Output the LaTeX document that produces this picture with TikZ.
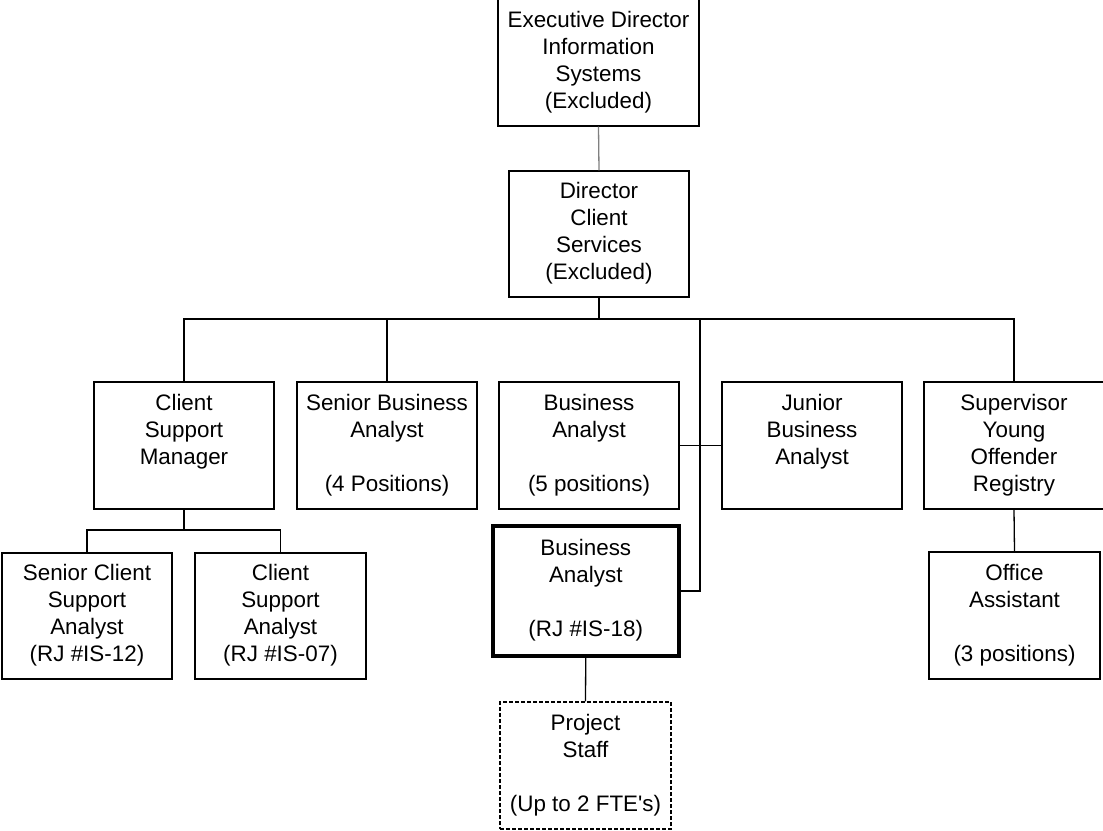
\documentclass[tikz,border=0pt]{standalone}
\usepackage{fontspec}
\setmainfont{Liberation Sans}
\newfontfamily\rawfont{Liberation Sans}[Ligatures=ResetAll]
\definecolor{lgray}{RGB}{128,128,128}
\begin{document}
\begin{tikzpicture}[x=1pt,y=-1pt,
  box/.style={draw, line width=1.3pt, minimum width=180pt, minimum height=127pt,
    inner sep=0pt, align=center, font=\fontsize{22.4}{27}\selectfont},
  link/.style={line width=1.3pt}]
\useasboundingbox (0,0) rectangle (1103,830);
% nodes
\node[box, minimum width=201pt] (exec) at (598.5,62.5)
  {\strut Executive Director\\\strut Information\\\strut Systems\\\strut (Excluded)};
\node[box, minimum height=126pt] (dir) at (599,234)
  {\strut Director\\\strut Client\\\strut Services\\\strut (Excluded)};
\node[box] (csm) at (184,445.5) {\strut Client\\\strut Support\\\strut Manager\\\strut};
\node[box] (sba) at (387,445.5) {\strut Senior Business\\\strut Analyst\\\strut\\\strut (4 Positions)};
\node[box] (ba) at (589,445.5) {\strut Business\\\strut Analyst\\\strut\\\strut (5 positions)};
\node[box] (jba) at (812,445.5) {\strut Junior\\\strut Business\\\strut Analyst\\\strut};
\node[box] (syor) at (1014,445.5) {\strut Supervisor\\\strut Young\\\strut Offender\\\strut Registry};
\node[box, minimum width=170pt, minimum height=126pt] (scsa) at (87,616)
  {\strut Senior Client\\\strut Support\\\strut Analyst\\\strut (RJ \#IS-12)};
\node[box, minimum width=171pt, minimum height=126pt] (csa) at (280.5,616)
  {\strut Client\\\strut Support\\\strut Analyst\\\strut (RJ \#IS-07)};
\node[box, line width=4pt, minimum width=185.5pt, minimum height=130pt] (barj) at (585.75,591)
  {\strut Business\\\strut Analyst\\\strut\\\strut (RJ \#IS-18)};
\node[box, dash pattern=on 4pt off 2pt, minimum width=171pt] (ps) at (585.5,765.5)
  {\strut Project\\\strut Staff\\\strut\\\strut (Up to 2 FTE{\rawfont\fontsize{22.4}{27}\selectfont '}s)};
\node[box, minimum width=171pt] (oa) at (1014.5,615.5)
  {\strut Office\\\strut Assistant\\\strut\\\strut (3 positions)};
% coordinates
\coordinate (bus) at (599,319);
\coordinate (busL) at (184,319);
\coordinate (busR) at (1014,319);
\coordinate (busT) at (700,319);
\coordinate (j1) at (184,530);
% connectors
\draw[link, lgray] (exec.south) -- (dir.north);
\draw[link] (dir.south) -- (bus);
\draw[link] (csm.north) -- (busL) -- (busR) -- (syor.north);
\draw[link] (sba.north) -- (sba.north |- busL);
\draw[link] (busT) |- (barj.east);
\draw[link] (ba.east) -- (jba.west);
\draw[link] (csm.south) -- (j1);
\draw[link] (scsa.north) |- (j1) -| (csa.north);
\draw[link] (barj.south) -- (ps.north);
\draw[link] (syor.south) -- (oa.north);
\end{tikzpicture}
\end{document}
